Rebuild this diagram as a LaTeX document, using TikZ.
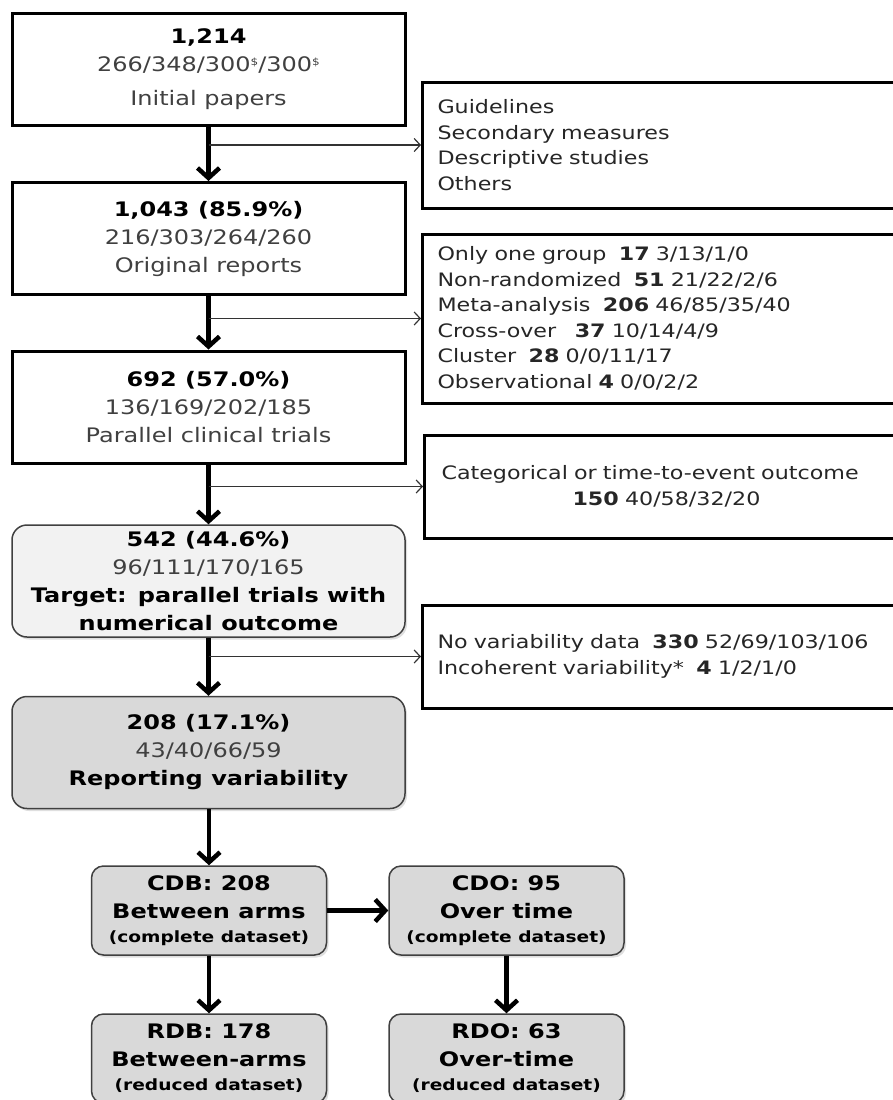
\documentclass[tikz,border=0pt]{standalone}
\usepackage{fontspec}
\setmainfont[FakeStretch=1.2]{DejaVu Sans}
\usetikzlibrary{arrows.meta, calc, positioning, shadows}
\definecolor{lightfill}{HTML}{F2F2F2}
\definecolor{darkfill}{HTML}{D9D9D9}
\definecolor{textgray}{HTML}{404040}
\tikzset{
  >={Straight Barb[length=10pt, width=22pt]},
  px/.style={x=1pt, y=-1pt},
  % main column: plain and shaded stages
  stage/.style={draw, line width=3pt, minimum width=393pt, minimum height=112pt,
    align=center, inner sep=0pt, font=\fontsize{20}{28}\selectfont},
  shaded/.style={stage, line width=1.5pt, draw=black!75, rounded corners=15pt,
    drop shadow={shadow xshift=2pt, shadow yshift=-2.5pt, opacity=0.25}},
  % excluded records, the boxes run on past the right margin
  excl/.style={draw, line width=3pt, anchor=west, minimum width=490pt, text width=460pt,
    inner xsep=15pt, align=left, text=black!85, font=\fontsize{18.5}{25.5}\selectfont},
  subset/.style={shaded, fill=darkfill, minimum width=235pt, minimum height=89pt,
    rounded corners=12pt, font=\bfseries\fontsize{20}{28}\selectfont},
  flow/.style={->, line width=4.5pt},
  drop/.style={-{Straight Barb[length=6pt, width=13pt]}, line width=1.2pt, black!80},
}
\newcommand\sm[1]{{\fontsize{15.5}{18}\selectfont #1}}
\newcommand\gr[1]{{\color{textgray}#1}}
\newcommand\dol{\raisebox{6pt}{\fontsize{10}{10}\selectfont\$}}

\begin{document}
\begin{tikzpicture}[px]
  \useasboundingbox (0,0) rectangle (893,1100);
  % main column
  \node[stage] (init) at (208.5,69) {\textbf{1,214}\\
    \gr{266/348/300\dol/300\dol}\\[6pt]\gr{Initial papers}};
  \node[stage] (orig) at (208.5,238.5) {\textbf{1,043 (85.9\%)}\\ \gr{216/303/264/260}\\ \gr{Original reports}};
  \node[stage] (para) at (208.5,407) {\textbf{692 (57.0\%)}\\ \gr{136/169/202/185}\\ \gr{Parallel clinical trials}};
  \node[shaded, fill=lightfill] (targ) at (208.5,581) {\textbf{542 (44.6\%)}\\ \gr{96/111/170/165}\\
    \textbf{Target: parallel trials with}\\ \textbf{numerical outcome}};
  \node[shaded, fill=darkfill] (rep) at (208.5,752.5) {\textbf{208 (17.1\%)}\\ \gr{43/40/66/59}\\
    \textbf{Reporting variability}};
  % exclusions
  \node[excl, minimum height=126pt] (ex1) at (421,145) {Guidelines\\ Secondary measures\\
    Descriptive studies\\ Others};
  \node[excl, minimum height=169pt] (ex2) at (421,318.5) {Only one group~~\textbf{17} 3/13/1/0\\
    Non-randomized~~\textbf{51} 21/22/2/6\\ Meta-analysis~~\textbf{206} 46/85/35/40\\
    Cross-over~~~\textbf{37} 10/14/4/9\\ Cluster~~\textbf{28} 0/0/11/17\\
    Observational \textbf{4} 0/0/2/2};
  \node[excl, minimum height=103pt] (ex3) at (423,486.5) {\hspace*{2pt}Categorical or time-to-event outcome\\
    \hspace*{133pt}\textbf{150} 40/58/32/20};
  \node[excl, minimum height=103pt] (ex4) at (421,656.5) {No variability data~~\textbf{330} 52/69/103/106\\
    Incoherent variability*~~\textbf{4} 1/2/1/0};
  % datasets
  \node[subset] (cdb) at (209,910.5) {CDB: 208\\ Between arms\\[-4pt]\sm{(complete dataset)}};
  \node[subset] (cdo) at (506.5,910.5) {CDO: 95\\ Over time\\[-4pt]\sm{(complete dataset)}};
  \node[subset] (rdb) at (209,1058.5) {RDB: 178\\ Between-arms\\[-4pt]\sm{(reduced dataset)}};
  \node[subset] (rdo) at (506.5,1058.5) {RDO: 63\\ Over-time\\[-4pt]\sm{(reduced dataset)}};
  % flow
  \draw[flow] (init.south) -- (orig.north);
  \draw[flow] (orig.south) -- (para.north);
  \draw[flow] (para.south) -- (targ.north);
  \draw[flow] (targ.south) -- (rep.south |- rep.north);
  \draw[flow] (rep.south -| cdb.north) -- (cdb.north);
  \draw[flow] (cdb.east) -- (cdo.west);
  \draw[flow] (cdb.south) -- (rdb.north);
  \draw[flow] (cdo.south) -- (rdo.north);
  \foreach \a/\b in {init/ex1, orig/ex2, para/ex3, targ/ex4}
    \draw[drop] (\a.south |- \b.west) -- (\b.west);
\end{tikzpicture}
\end{document}
